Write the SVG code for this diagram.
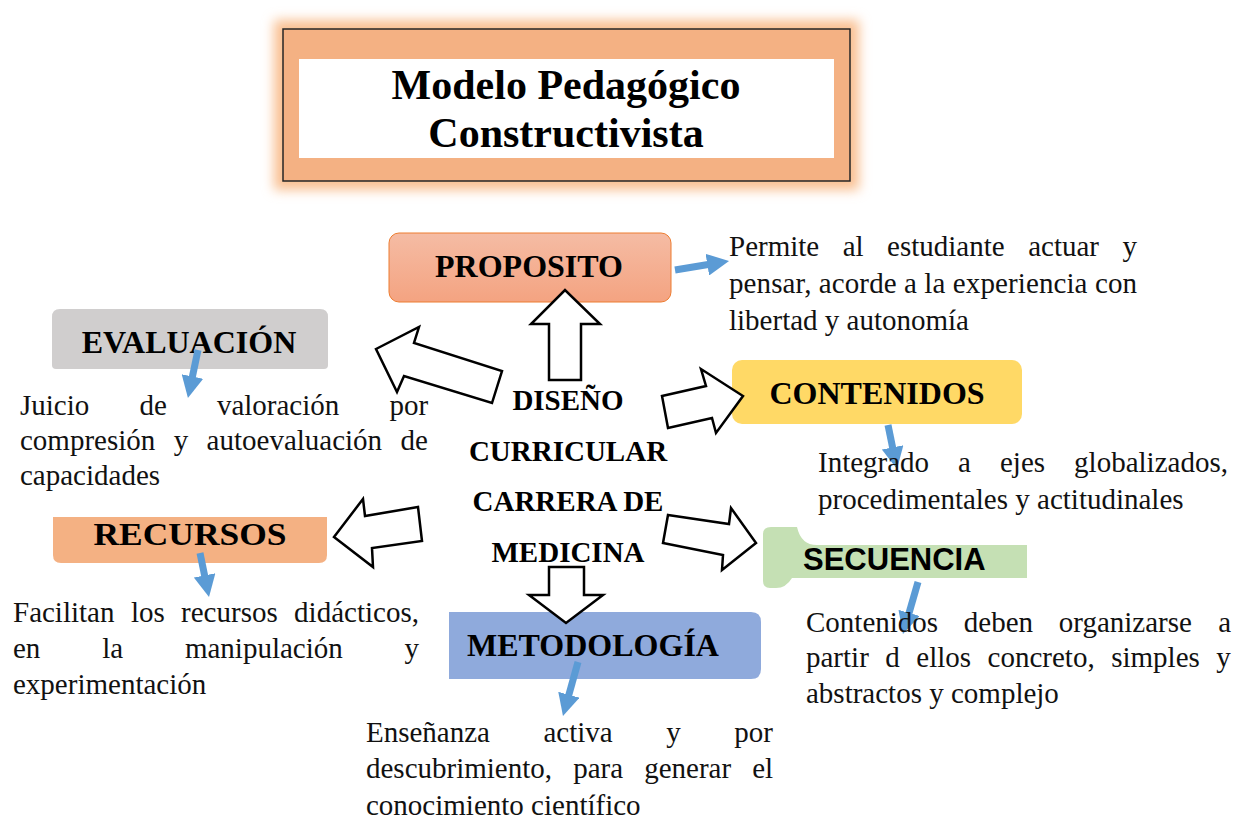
<svg xmlns="http://www.w3.org/2000/svg" width="1236" height="819" viewBox="0 0 1236 819">
<defs>
<filter id="glow" x="-10%" y="-20%" width="120%" height="140%"><feGaussianBlur stdDeviation="6"/></filter>
<linearGradient id="propGrad" x1="0" y1="0" x2="0" y2="1"><stop offset="0" stop-color="#F5BCA4"/><stop offset="1" stop-color="#F4A381"/></linearGradient>
<marker id="bh" viewBox="0 0 22 22" refX="10" refY="11" markerWidth="22" markerHeight="22" markerUnits="userSpaceOnUse" orient="auto"><path d="M0,0 L22,11 L0,22 Z" fill="#5B9BD5"/></marker>
<style>
.body{font-family:"Liberation Serif","Times New Roman",serif;font-size:29px;fill:#111}
.lbl{font-family:"Liberation Serif","Times New Roman",serif;font-weight:bold;font-size:32px;fill:#000;text-anchor:middle}
.ctr{font-family:"Liberation Serif","Times New Roman",serif;font-weight:bold;font-size:29px;fill:#000;text-anchor:middle}
.blk{fill:#fff;stroke:#000;stroke-width:2.5;stroke-linejoin:miter}
.blue{stroke:#5B9BD5;stroke-width:7;fill:none;marker-end:url(#bh)}
</style>
</defs>
<rect width="1236" height="819" fill="#fff"/>

<g id="title">
<rect x="274" y="20" width="585" height="170" fill="#F9C092" filter="url(#glow)"/>
<rect x="283" y="29" width="567" height="152" fill="#F4B183" stroke="#262626" stroke-width="1.5"/>
<rect x="299" y="59" width="535" height="99" fill="#fff"/>
<text x="566" y="99" font-family="Liberation Serif, Times New Roman, serif" font-weight="bold" font-size="42" text-anchor="middle">Modelo Pedagógico</text>
<text x="566" y="147" font-family="Liberation Serif, Times New Roman, serif" font-weight="bold" font-size="42" text-anchor="middle">Constructivista</text>
</g>

<g id="center">
<text class="ctr" x="568" y="410">DISEÑO</text>
<text class="ctr" x="568" y="461">CURRICULAR</text>
<text class="ctr" x="568" y="511">CARRERA DE</text>
<text class="ctr" x="568" y="562">MEDICINA</text>
</g>

<g id="proposito">
<rect x="389" y="233" width="282" height="69" rx="10" fill="url(#propGrad)" stroke="#ED7D31" stroke-width="1"/>
<text class="lbl" x="529" y="277">PROPOSITO</text>
</g>

<g id="evaluacion">
<path d="M60,309 H320 Q328,309 328,317 V365 Q328,369 324,369 H56 Q52,369 52,365 V317 Q52,309 60,309 Z" fill="#D0CECE"/>
<text class="lbl" x="189" y="353">EVALUACIÓN</text>
</g>

<g id="recursos">
<path d="M53,517 H327 V555 Q327,563 319,563 H61 Q53,563 53,555 Z" fill="#F4B183"/>
<text class="lbl" x="190" y="545" textLength="193" lengthAdjust="spacingAndGlyphs">RECURSOS</text>
</g>

<g id="metodologia">
<path d="M449,612 H751 Q761,612 761,622 V669 Q761,679 751,679 H449 Z" fill="#8FAADC"/>
<text class="lbl" x="593" y="656">METODOLOGÍA</text>
</g>

<g id="contenidos">
<rect x="732" y="360" width="290" height="64" rx="10" fill="#FFD966"/>
<text class="lbl" x="877" y="404">CONTENIDOS</text>
</g>

<g id="secuencia">
<path d="M771,527 L797,527 Q801,545 817,545 L1027,545 L1027,578 L792,578 Q786,588 776,588 L770,588 Q763,588 763,581 L763,534 Q763,527 771,527 Z" fill="#C5E0B4"/>
<text x="803" y="570" font-family="Liberation Sans, Arial, sans-serif" font-weight="bold" font-size="31" fill="#000">SECUENCIA</text>
</g>

<g id="connectors">
<polygon class="blk" points="549,380 549,324 531,324 565,290 600,324 581,324 581,380"/>
<polygon class="blk" points="376,349 419,327 414,343 502,371 492,403 404,376 397,392"/>
<polygon class="blk" points="662,396 706,386 701,369 743,396 716,433 712,418 668,428"/>
<polygon class="blk" points="668,515 729,524 731,508 756,543 722,570 723,555 663,543"/>
<polygon class="blk" points="334,537 363,499 365,516 418,507 422,541 372,548 373,567"/>
<polygon class="blk" points="549,567 584,567 584,595 603,595 566,623 529,595 549,595"/>
<line class="blue" x1="675" y1="270" x2="717.2" y2="263"/>
<line class="blue" x1="198" y1="350" x2="190.4" y2="386.2"/>
<line class="blue" x1="200" y1="553" x2="206.6" y2="585.2"/>
<line class="blue" x1="578" y1="662" x2="566.2" y2="704.4"/>
<line class="blue" x1="888" y1="425" x2="894.6" y2="457.2"/>
<line class="blue" x1="918" y1="582" x2="906.3" y2="622.5"/>
</g>

<g id="text-proposito">
<text class="body" y="256"><tspan x="729">Permite</tspan><tspan x="842.7">al</tspan><tspan x="887.1">estudiante</tspan><tspan x="1028.2">actuar</tspan><tspan x="1122.5">y</tspan></text>
<text class="body" x="729" y="293" textLength="408" lengthAdjust="spacing">pensar, acorde a la experiencia con</text>
<text class="body" x="729" y="330">libertad y autonomía</text>
</g>

<g id="text-evaluacion">
<text class="body" y="415"><tspan x="20">Juicio</tspan><tspan x="139.4">de</tspan><tspan x="216.9">valoración</tspan><tspan x="389.4">por</tspan></text>
<text class="body" y="450"><tspan x="20">compresión</tspan><tspan x="173.7">y</tspan><tspan x="206.6">autoevaluación</tspan><tspan x="400.6">de</tspan></text>
<text class="body" x="20" y="485">capacidades</text>
</g>

<g id="text-recursos">
<text class="body" y="622"><tspan x="13">Facilitan</tspan><tspan x="130.9">los</tspan><tspan x="181.1">recursos</tspan><tspan x="294.1">didácticos,</tspan></text>
<text class="body" y="658"><tspan x="13">en</tspan><tspan x="102.2">la</tspan><tspan x="184.9">manipulación</tspan><tspan x="404.6">y</tspan></text>
<text class="body" x="13" y="694">experimentación</text>
</g>

<g id="text-metodologia">
<text class="body" y="742"><tspan x="366">Enseñanza</tspan><tspan x="543.5">activa</tspan><tspan x="666.3">y</tspan><tspan x="734.3">por</tspan></text>
<text class="body" y="778"><tspan x="366">descubrimiento,</tspan><tspan x="573.2">para</tspan><tspan x="644.2">generar</tspan><tspan x="752.2">el</tspan></text>
<text class="body" x="366" y="815">conocimiento científico</text>
</g>

<g id="text-contenidos">
<text class="body" y="472"><tspan x="818">Integrado</tspan><tspan x="958.1">a</tspan><tspan x="1000">ejes</tspan><tspan x="1074.1">globalizados,</tspan></text>
<text class="body" x="818" y="509">procedimentales y actitudinales</text>
</g>

<g id="text-secuencia">
<text class="body" y="632"><tspan x="806">Contenidos</tspan><tspan x="963.8">deben</tspan><tspan x="1058.8">organizarse</tspan><tspan x="1218.2">a</tspan></text>
<text class="body" y="667"><tspan x="806">partir</tspan><tspan x="885.3">d</tspan><tspan x="916.3">ellos</tspan><tspan x="987.6">concreto,</tspan><tspan x="1111.2">simples</tspan><tspan x="1216.3">y</tspan></text>
<text class="body" x="806" y="703">abstractos y complejo</text>
</g>
</svg>
